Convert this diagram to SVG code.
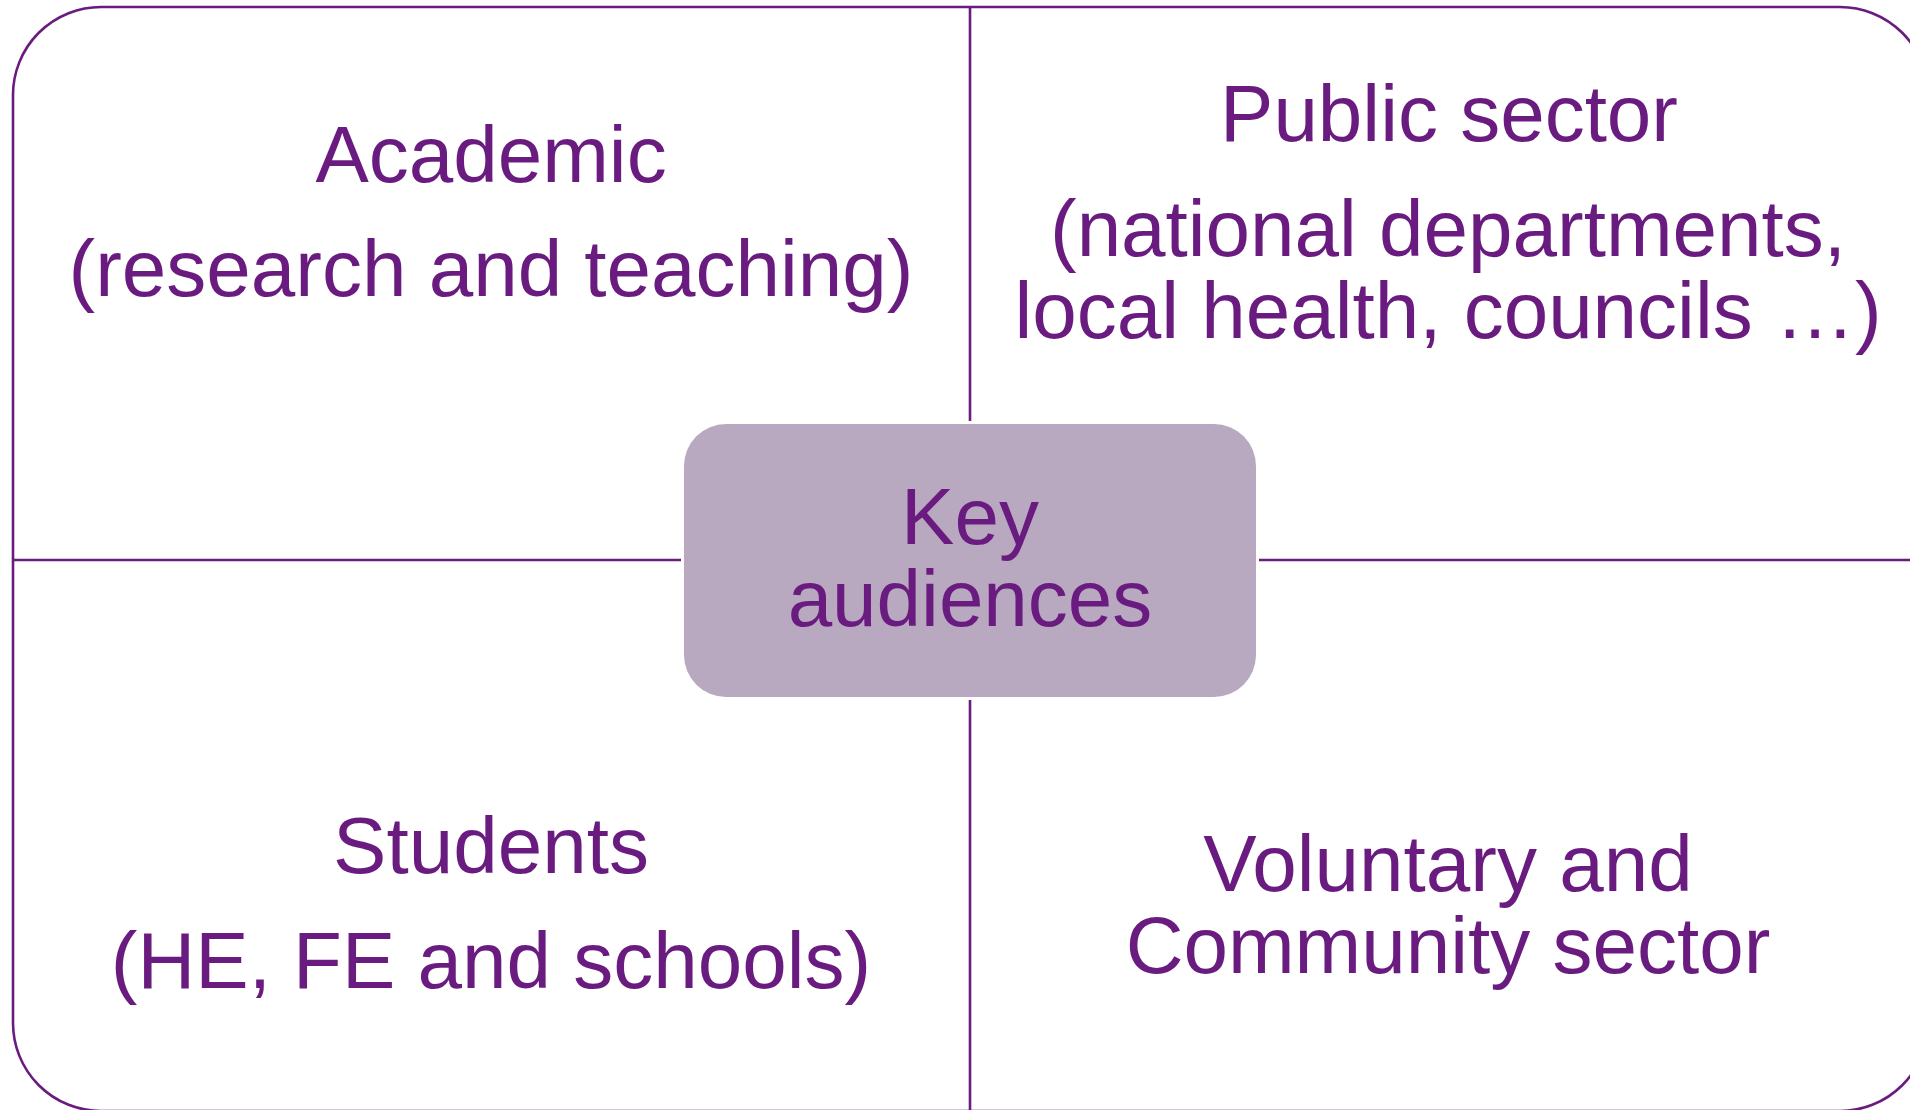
<svg xmlns="http://www.w3.org/2000/svg" width="1910" height="1110" viewBox="0 0 1910 1110">
  <style>
    .frame { fill: #ffffff; stroke: #6a1b7f; stroke-width: 2.6; }
    .conn { stroke: #6a1b7f; stroke-width: 2.6; fill: none; }
    .lbl { font-family: "Liberation Sans", Arial, sans-serif; font-size: 80px; fill: #6a1b7f; text-anchor: middle; }
    .center { fill: #b9a9c0; }
  </style>
  <rect width="1910" height="1110" fill="#ffffff"/>
  <g id="frame">
    <rect class="frame" x="13" y="7" width="1915" height="1104" rx="88" ry="88"/>
  </g>
  <g id="connectors">
    <line class="conn" x1="970" y1="7" x2="970" y2="421"/>
    <line class="conn" x1="970" y1="700" x2="970" y2="1112"/>
    <line class="conn" x1="13" y1="560" x2="681" y2="560"/>
    <line class="conn" x1="1259" y1="560" x2="1928" y2="560"/>
  </g>
  <g id="academic">
    <text class="lbl" x="491" y="182">Academic</text>
    <text class="lbl" x="491" y="296">(research and teaching)</text>
  </g>
  <g id="public-sector">
    <text class="lbl" x="1449" y="141">Public sector</text>
    <text class="lbl" x="1448" y="256">(national departments,</text>
    <text class="lbl" x="1448" y="338">local health, councils …)</text>
  </g>
  <g id="students">
    <text class="lbl" x="491" y="873">Students</text>
    <text class="lbl" x="491" y="988">(HE, FE and schools)</text>
  </g>
  <g id="voluntary">
    <text class="lbl" x="1448" y="891">Voluntary and</text>
    <text class="lbl" x="1448" y="973">Community sector</text>
  </g>
  <g id="key-audiences">
    <rect class="center" x="684" y="424" width="572" height="273" rx="42" ry="42"/>
    <text class="lbl" x="970" y="544">Key</text>
    <text class="lbl" x="970" y="626">audiences</text>
  </g>
</svg>
